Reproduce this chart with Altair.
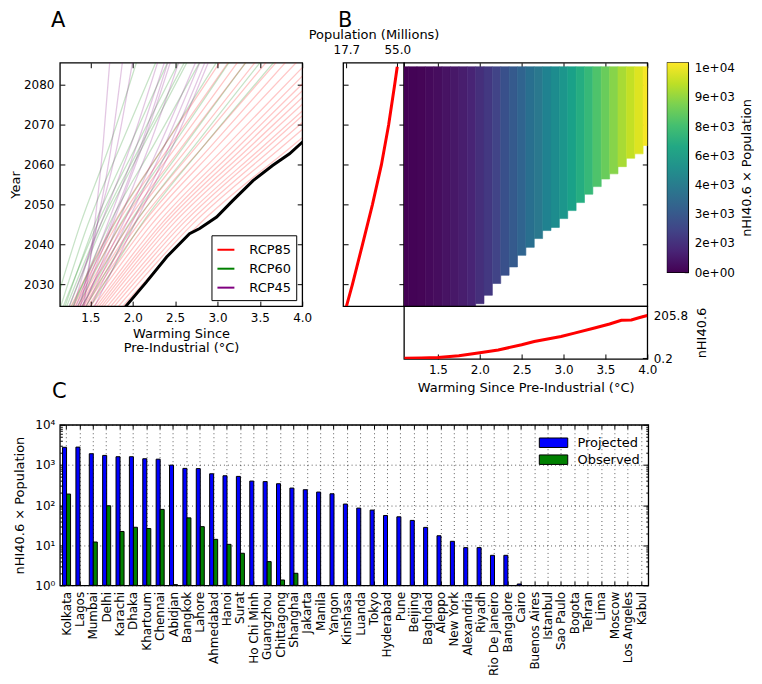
import altair as alt
import pandas as pd

FONT = "DejaVu Sans"

# ---------------- Panel A: warming trajectories (warming in degC at traj_years) ----------------
traj_years = [2024.5, 2045, 2065, 2086]
rcp85_warming = [
    [1.88, 2.78, 3.90, 5.10], [1.83, 2.70, 3.79, 4.95], [1.78, 2.64, 3.70, 4.84],
    [1.74, 2.58, 3.62, 4.73], [1.70, 2.53, 3.56, 4.66], [1.66, 2.47, 3.48, 4.56],
    [1.63, 2.42, 3.41, 4.46], [1.60, 2.37, 3.34, 4.37], [1.57, 2.33, 3.27, 4.28],
    [1.54, 2.28, 3.20, 4.18], [1.50, 2.22, 3.12, 4.08], [1.47, 2.16, 3.02, 3.95],
    [1.44, 2.11, 2.94, 3.82], [1.42, 2.06, 2.85, 3.71], [1.40, 2.01, 2.77, 3.59],
    [1.37, 1.96, 2.68, 3.46], [1.35, 1.91, 2.60, 3.35], [1.32, 1.86, 2.53, 3.25],
    [1.30, 1.81, 2.45, 3.14], [1.27, 1.77, 2.38, 3.04],
]
rcp60_warming = [
    [1.08, 1.38, 1.73, 2.05], [1.15, 1.47, 1.86, 2.28], [1.20, 1.55, 1.97, 2.42],
    [1.18, 1.58, 2.05, 2.55], [1.25, 1.65, 2.13, 2.65], [1.30, 1.72, 2.25, 2.80],
    [1.28, 1.78, 2.38, 3.00], [1.35, 1.85, 2.48, 3.15], [1.40, 1.95, 2.62, 3.35],
    [1.45, 2.02, 2.74, 3.52], [1.50, 2.10, 2.85, 3.68], [1.22, 1.62, 2.10, 2.62],
]
rcp45_warming = [
    [1.42, 1.55, 1.65, 1.73], [1.38, 1.58, 1.75, 1.88], [1.30, 1.58, 1.82, 2.00],
    [1.25, 1.62, 1.98, 2.30], [1.33, 1.70, 2.05, 2.38], [1.38, 1.76, 2.12, 2.45],
    [1.42, 1.82, 2.20, 2.55], [1.45, 1.92, 2.38, 2.80], [1.50, 1.98, 2.44, 2.86],
    [1.55, 2.02, 2.48, 2.90], [1.40, 1.88, 2.32, 2.75], [1.35, 1.74, 2.10, 2.42],
]
scenarios = ["RCP85", "RCP60", "RCP45"]
scenario_colors = ["#ff0000", "#008000", "#800080"]

envelope_warming = [1.90, 1.92, 2.16, 2.40, 2.67, 2.79, 2.99, 3.18, 3.42, 3.65, 3.85, 4.00, 4.08]
envelope_year = [2024.0, 2024.6, 2030.6, 2036.9, 2042.7, 2044.0, 2046.9, 2051.0, 2056.0, 2059.8, 2062.7, 2065.6, 2067.0]

# ---------------- Panel B ----------------
pop_year = [2024.5, 2030, 2040, 2050, 2060, 2070, 2080, 2084.5]
pop_millions = [17.7, 22.1, 29.5, 36.8, 43.4, 48.7, 53.1, 55.0]

heat_warming = [1.1, 1.2, 1.3, 1.4, 1.5, 1.6, 1.7, 1.8, 1.9, 2.0, 2.1, 2.2, 2.3, 2.4, 2.5,
                2.6, 2.7, 2.8, 2.9, 3.0, 3.1, 3.2, 3.3, 3.4, 3.5, 3.6, 3.7, 3.8, 3.9, 4.0]
heat_value = [0, 54, 108, 215, 323, 484, 645, 860, 1075, 1398, 1720, 2150, 2580, 3010, 3440,
              3870, 4300, 4730, 5160, 5590, 6128, 6665, 7203, 7740, 8278, 8815, 9353, 9783, 10213, 10643]
heat_first_year = [2024.0, 2024.0, 2024.0, 2024.0, 2024.0, 2024.0, 2024.0, 2024.0, 2024.0, 2025.2,
                   2027.3, 2030.25, 2032.3, 2034.4, 2037.3, 2039.3, 2041.5, 2043.5, 2044.3, 2046.5,
                   2048.5, 2050.5, 2052.6, 2054.5, 2056.4, 2057.7, 2059.5, 2061.6, 2062.7, 2064.8]
heat_last_year = 2084.5

nhi_warming = [1.1, 1.3, 1.5, 1.75, 2.0, 2.22, 2.5, 2.65, 2.97, 3.13, 3.37, 3.55, 3.69, 3.81, 3.9, 4.0]
nhi_value = [0.2, 1.5, 4, 12, 27, 40, 65, 81, 105, 121, 146, 165, 183, 184, 195, 205.8]

cbar_ticks = [0, 1500, 3000, 4500, 6000, 7500, 9000, 10500]
cbar_labels = ["0e+00", "2e+03", "3e+03", "4e+03", "6e+03", "8e+03", "9e+03", "1e+04"]
cbar_range = [0, 10750]
viridis = ["#440154", "#482475", "#414487", "#355f8d", "#2a788e", "#21918c",
           "#22a884", "#44bf70", "#7ad151", "#bddf26", "#fde725"]

# ---------------- Panel C ----------------
cities = ["Kolkata", "Lagos", "Mumbai", "Delhi", "Karachi", "Dhaka", "Khartoum", "Chennai",
          "Abidjan", "Bangkok", "Lahore", "Ahmedabad", "Hanoi", "Surat", "Ho Chi Minh",
          "Guangzhou", "Chittagong", "Shanghai", "Jakarta", "Manila", "Yangon", "Kinshasa",
          "Luanda", "Tokyo", "Hyderabad", "Pune", "Beijing", "Baghdad", "Aleppo", "New York",
          "Alexandria", "Riyadh", "Rio De Janeiro", "Bangalore", "Cairo", "Buenos Aires",
          "Istanbul", "Sao Paulo", "Bogota", "Tehran", "Lima", "Moscow", "Los Angeles", "Kabul"]
projected = [2750, 2780, 1900, 1725, 1600, 1600, 1425, 1390, 990, 820, 810, 602, 537, 518, 396,
             384, 340, 265, 241, 211, 191, 106, 84, 75, 55, 51, 41.5, 27.8, 17.2, 12.5,
             8.7, 8.7, 5.6, 5.6, 1.08, 0, 0, 0, 0, 0, 0, 0, 0, 0]
observed = [188, 0, 12, 96, 22, 28, 26, 78, 1.04, 48, 29, 14, 10.5, 6.3, 0,
            3.9, 1.36, 2.0, 0, 0, 0, 0, 0, 0, 0, 0, 0, 0, 0, 0,
            0, 0, 0, 0, 0, 0, 0, 0, 0, 0, 0, 0, 0, 0]
series_names = ["Projected", "Observed"]
series_colors = ["#0000ff", "#008000"]

# ---------------- tables ----------------
rows = []
for name, lines in zip(scenarios, [rcp85_warming, rcp60_warming, rcp45_warming]):
    for i, ws in enumerate(lines):
        for k, (w, yr) in enumerate(zip(ws, traj_years)):
            rows.append({"scenario": name, "line": f"{name}-{i}", "k": k, "warming": w, "year": yr})
df_traj = pd.DataFrame(rows)
df_env = pd.DataFrame({"warming": envelope_warming, "year": envelope_year})
df_pop = pd.DataFrame({"year": pop_year, "pop": pop_millions})
df_heat = pd.DataFrame({
    "x0": [c - 0.05 for c in heat_warming], "x1": [c + 0.05 for c in heat_warming],
    "ybot": heat_first_year, "ytop": [heat_last_year] * len(heat_warming), "value": heat_value})
df_nhi = pd.DataFrame({"warming": nhi_warming, "nhi": nhi_value})
df_cbar = pd.DataFrame({"lo": [cbar_range[0]], "hi": [cbar_range[1]], "a": [0], "b": [1]})
crow = []
for c, p, o in zip(cities, projected, observed):
    if p > 0:
        crow.append({"city": c, "series": "Projected", "value": p})
    if o > 0:
        crow.append({"city": c, "series": "Observed", "value": o})
df_c = pd.DataFrame(crow)


def ax(orient, tick=5, values=None, labels=True, title=None, **kw):
    opts = dict(orient=orient, tickSize=tick, offset=-tick, labels=labels, title=title)
    if values is not None:
        opts["values"] = values
    opts.update(kw)
    return alt.Axis(**opts)


# ---------------- Panel A chart ----------------
xA = alt.Scale(domain=[1.14, 4.0], nice=False, zero=False)
yA = alt.Scale(domain=[2024.6, 2085.5], nice=False, zero=False)
wt = [1.5, 2.0, 2.5, 3.0, 3.5, 4.0]
yt = [2030, 2040, 2050, 2060, 2070, 2080]

legA = alt.Legend(title=None, orient="bottom-right", offset=6, fillColor="white", strokeColor="black",
                  padding=5, symbolType="stroke", symbolSize=289, symbolStrokeWidth=2, symbolOpacity=1,
                  labelFontSize=13, labelOffset=14, rowPadding=2)
traj = alt.Chart(df_traj).mark_line(clip=True, strokeWidth=1.3, opacity=0.22, interpolate="monotone").encode(
    x=alt.X("warming:Q", scale=xA, axis=ax("bottom", values=wt, format=".1f", labelPadding=6,
                                           title=["Warming Since", "Pre-Industrial (°C)"],
                                           titlePadding=4, titleLineHeight=15)),
    y=alt.Y("year:Q", scale=yA, axis=ax("left", values=yt, format="d", labelPadding=6, title="Year",
                                        titlePadding=1)),
    color=alt.Color("scenario:N", scale=alt.Scale(domain=scenarios, range=scenario_colors), legend=legA),
    detail="line:N",
    order="k:Q",
)
env = alt.Chart(df_env).mark_line(clip=True, color="black", strokeWidth=3).encode(
    x=alt.X("warming:Q", scale=xA, axis=None),
    y=alt.Y("year:Q", scale=yA, axis=None),
)
ticksA = alt.Chart(df_env).mark_point(opacity=0).encode(
    x=alt.X("warming:Q", scale=xA, axis=ax("top", values=wt, labels=False)),
    y=alt.Y("year:Q", scale=yA, axis=ax("right", values=yt, labels=False)),
)
panelA = alt.layer(traj, env, ticksA).resolve_axis(x="independent", y="independent").properties(
    width=243, height=244,
    title=alt.TitleParams("A", anchor="start", frame="group", dx=-9, offset=14, baseline="alphabetic"))

# ---------------- Panel B charts ----------------
xP = alt.Scale(domain=[15.3, 59.9], nice=False, zero=False)
popline = alt.Chart(df_pop).mark_line(color="red", strokeWidth=3, clip=True).encode(
    x=alt.X("pop:Q", scale=xP, axis=ax("top", values=[17.7, 55.0], format=".1f", labelPadding=6,
                                        title="Population (Millions)", titlePadding=2)),
    y=alt.Y("year:Q", scale=yA, axis=ax("left", values=yt, labels=False)),
)
popticks = alt.Chart(df_pop).mark_point(opacity=0).encode(
    x=alt.X("pop:Q", scale=xP, axis=None),
    y=alt.Y("year:Q", scale=yA, axis=ax("right", values=yt, labels=False)),
)
panelPop = alt.layer(popline, popticks).resolve_axis(x="independent", y="independent").properties(
    width=61, height=244)

xB = alt.Scale(domain=[1.094, 4.0], nice=False, zero=False)
heat_color = alt.Scale(range=viridis, domain=cbar_range)
panelHeat = alt.Chart(df_heat).mark_rect(clip=True, strokeWidth=0.6).encode(
    x=alt.X("x0:Q", scale=xB, axis=ax("top", values=wt, labels=False)),
    x2="x1:Q",
    y=alt.Y("ybot:Q", scale=yA, axis=ax("right", values=yt, labels=False)),
    y2="ytop:Q",
    color=alt.Color("value:Q", scale=heat_color, legend=None),
    stroke=alt.Stroke("value:Q", scale=heat_color, legend=None),
).properties(width=244, height=244,
             title=alt.TitleParams("B", anchor="start", frame="group", dx=-66, offset=14,
                                   baseline="alphabetic"))

panelNhi = alt.Chart(df_nhi).mark_line(color="red", strokeWidth=3, clip=True).encode(
    x=alt.X("warming:Q", scale=xB, axis=ax("bottom", values=wt, format=".1f", labelPadding=6,
                                           title="Warming Since Pre-Industrial (°C)", titlePadding=6)),
    y=alt.Y("nhi:Q", scale=alt.Scale(domain=[-3, 251], nice=False, zero=False),
            axis=ax("right", values=[0.2, 205.8], format=".1f", labelPadding=6, title="nHI40.6",
                    titleAngle=270, titleBaseline="top", titlePadding=8)),
).properties(width=244, height=53)

grad = {"gradient": "linear", "x1": 0, "x2": 0, "y1": 1, "y2": 0,
        "stops": [{"offset": i / (len(viridis) - 1), "color": c} for i, c in enumerate(viridis)]}
label_expr = "[" + ",".join(f"'{s}'" for s in cbar_labels) + "][round(datum.value/1500)]"
panelCbar = alt.Chart(df_cbar).mark_rect(fill=grad).encode(
    x=alt.X("a:Q", scale=alt.Scale(domain=[0, 1]), axis=None),
    x2="b:Q",
    y=alt.Y("lo:Q", scale=alt.Scale(domain=cbar_range, nice=False, zero=False),
            axis=ax("right", tick=4, values=cbar_ticks, labelExpr=label_expr, labelPadding=6,
                    title="nHI40.6 × Population", titleAngle=270, titleBaseline="top",
                    titlePadding=6)),
    y2="hi:Q",
).properties(width=21, height=210)

# ---------------- Panel C chart ----------------
xC = alt.Scale(domain=cities, paddingInner=0.4, paddingOuter=0.2)
yC = alt.Scale(type="log", domain=[1, 10000], nice=False)
decades = [1, 10, 100, 1000, 10000]
minor = [m * d for d in [1, 10, 100, 1000] for m in range(2, 10)]
sup_expr = "'10' + ['\u2070','\u00b9','\u00b2','\u00b3','\u2074'][round(log(datum.value)/LN10)]"
gridstyle = dict(grid=True, gridColor="black", gridDash=[1, 3], gridWidth=0.8, gridOpacity=0.8)

legC = alt.Legend(title=None, orient="top-right", offset=8, direction="vertical",
                  symbolType="M-1.5,-0.5H1.5V0.5H-1.5Z", symbolSize=361, symbolStrokeColor="black",
                  symbolStrokeWidth=1, labelFontSize=13, labelOffset=14, rowPadding=0, padding=0)
bars = alt.Chart(df_c).mark_bar(stroke="black", strokeWidth=1).encode(
    x=alt.X("city:N", scale=xC, axis=ax("bottom", tick=4, labelAngle=270, labelPadding=6,
                                         bandPosition=0.5, **gridstyle)),
    xOffset=alt.XOffset("series:N", scale=alt.Scale(domain=series_names)),
    y=alt.Y("value:Q", scale=yC, axis=ax("left", values=decades, labelExpr=sup_expr, labelPadding=5,
                                          title="nHI40.6 × Population", titlePadding=8, **gridstyle)),
    y2=alt.datum(1),
    color=alt.Color("series:N", scale=alt.Scale(domain=series_names, range=series_colors), legend=legC),
)
ticksC1 = alt.Chart(df_c).mark_point(opacity=0).encode(
    x=alt.X("city:N", scale=xC, axis=ax("top", tick=4, labels=False, bandPosition=0.5)),
    y=alt.Y("value:Q", scale=yC, axis=ax("right", values=decades, labels=False)),
)
ticksC2 = alt.Chart(df_c).mark_point(opacity=0).encode(
    x=alt.X("city:N", scale=xC, axis=None),
    y=alt.Y("value:Q", scale=yC, axis=ax("left", tick=2.5, values=minor, labels=False)),
)
ticksC3 = alt.Chart(df_c).mark_point(opacity=0).encode(
    x=alt.X("city:N", scale=xC, axis=None),
    y=alt.Y("value:Q", scale=yC, axis=ax("right", tick=2.5, values=minor, labels=False)),
)
panelC = alt.layer(bars, ticksC1, ticksC2, ticksC3).resolve_axis(x="independent", y="independent").properties(
    width=590, height=161,
    title=alt.TitleParams("C", anchor="start", frame="group", dx=-8, offset=0, baseline="alphabetic"))


def independent(c):
    return c.resolve_scale(color="independent", stroke="independent").resolve_legend(
        color="independent", stroke="independent")


# ---------------- layout ----------------
# In a flush layout a nested concat counts as zero size, so gaps below are measured from
# the start of the preceding nested block.
heatRow = independent(alt.hconcat(panelHeat, panelCbar, spacing=20, bounds="flush"))
heatCol = independent(alt.vconcat(heatRow, panelNhi, spacing=244, bounds="flush"))
blockB = independent(alt.hconcat(panelPop, heatCol, spacing=0, bounds="flush"))
topRow = independent(alt.hconcat(panelA, blockB, spacing=41, bounds="flush"))
chart = independent(alt.vconcat(topRow, panelC, spacing=363, bounds="flush")).configure(
    font=FONT, padding=0, background="white"
).configure_view(
    stroke="black", strokeWidth=1.3
).configure_axis(
    domain=False, grid=False, tickColor="black", tickWidth=1, labelColor="black", labelFont=FONT,
    labelFontSize=12, titleFont=FONT, titleFontSize=13, titleFontWeight="normal", titleColor="black",
    labelFlush=False, labelOverlap=False
).configure_legend(
    labelFont=FONT, labelColor="black"
).configure_title(
    font=FONT, fontSize=21, fontWeight="normal", color="black"
)

chart.save("out.html", embed_options={"renderer": "svg", "actions": False})
